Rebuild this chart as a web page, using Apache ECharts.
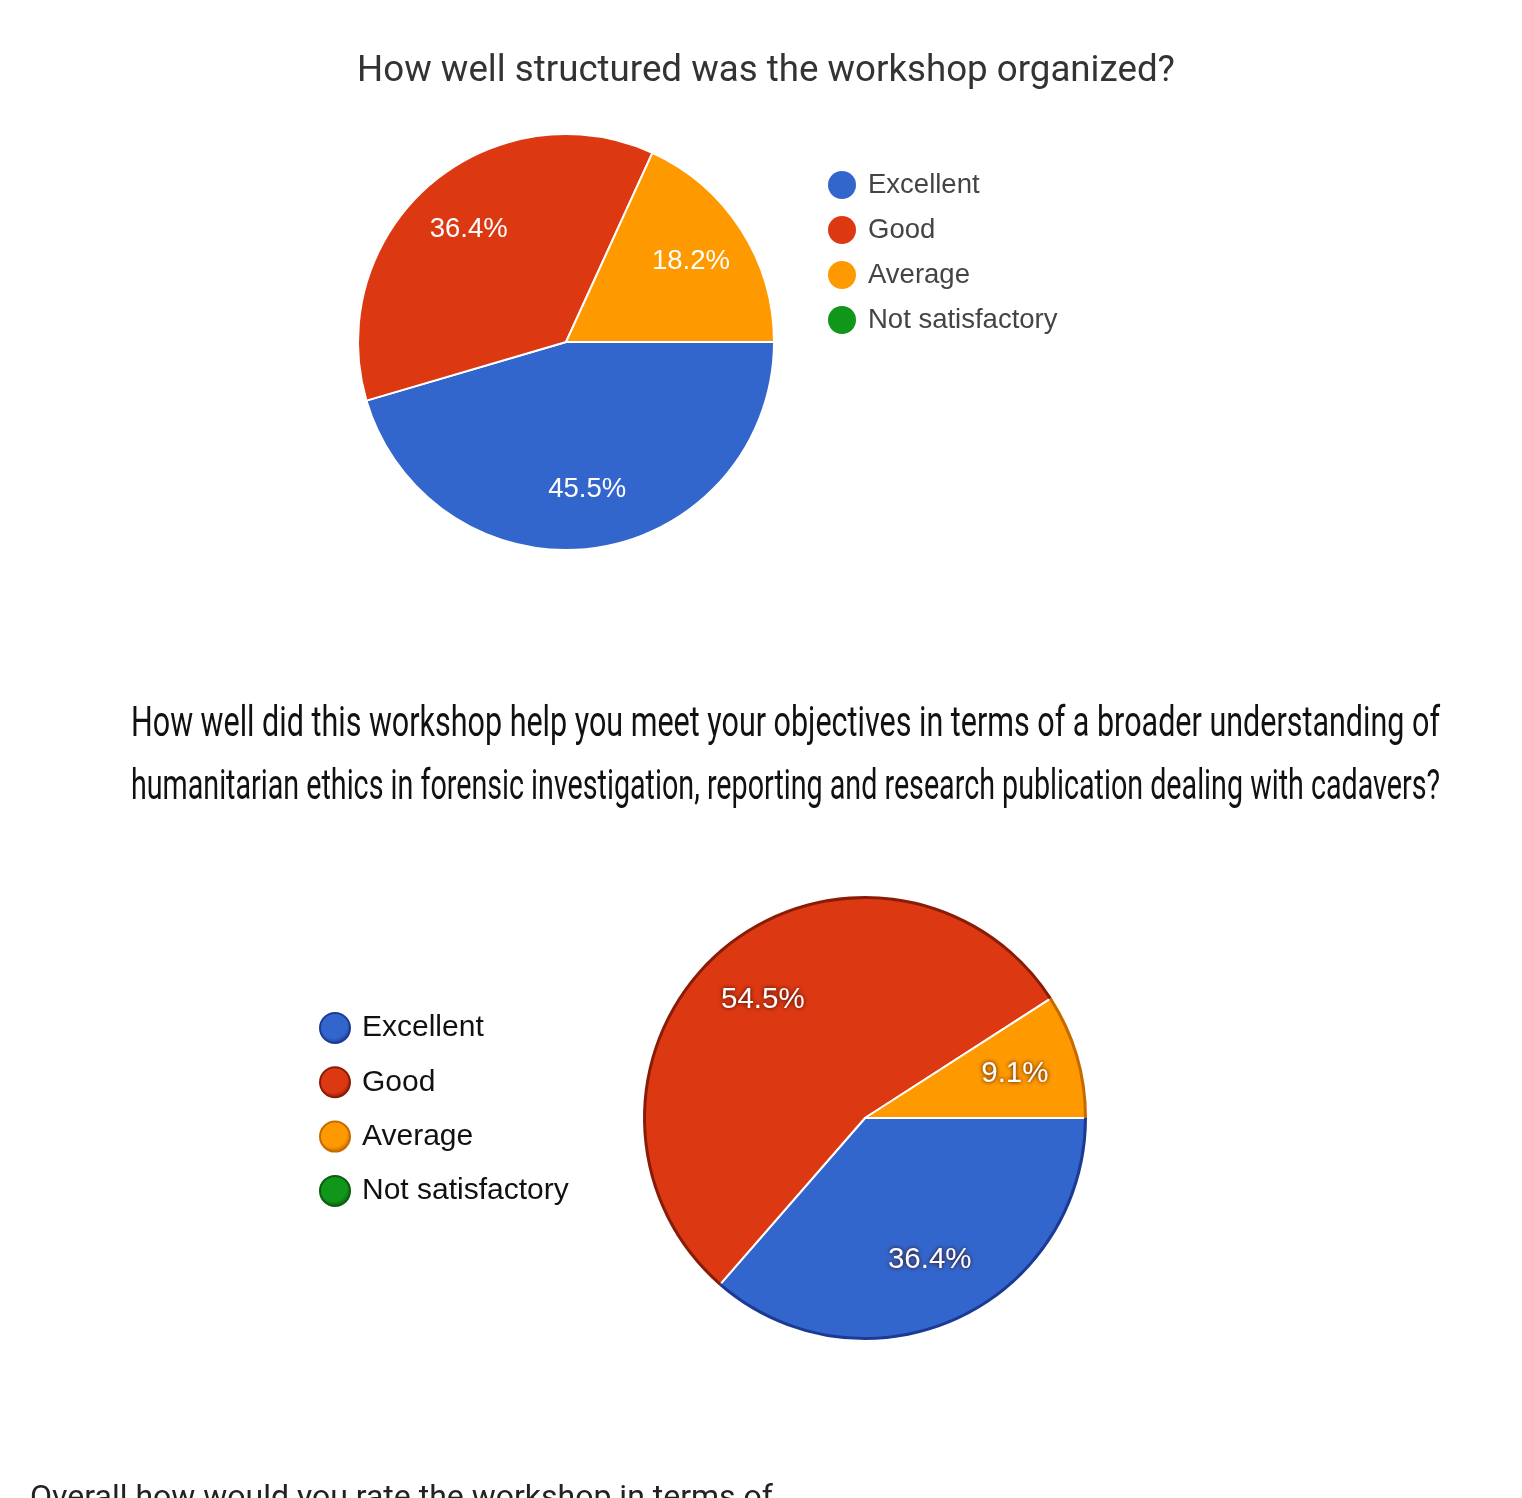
<!DOCTYPE html>
<html>
<head>
<meta charset="utf-8">
<script src="https://cdn.jsdelivr.net/npm/echarts@6/dist/echarts.min.js"></script>
<style>
html,body{margin:0;padding:0;background:#fff;}
#chart{width:1522px;height:1498px;}
</style>
</head>
<body>
<div id="chart"></div>
<script>
// ---- data ----
const categories = ['Excellent', 'Good', 'Average', 'Not satisfactory'];
const title1 = 'How well structured was the workshop organized?';
const values1 = [45.5, 36.4, 18.2, 0];
const title2Lines = [
  'How well did this workshop help you meet your objectives in terms of a broader understanding of',
  'humanitarian ethics in forensic investigation, reporting and research publication dealing with cadavers?'
];
const values2 = [36.4, 54.5, 9.1, 0];
const title3 = 'Overall how would you rate the workshop in terms of';

// ---- styles ----
const colors = ['#3366cc', '#dc3912', '#ff9900', '#109618'];
const darkColors = ['#1b3a94', '#8a1c07', '#c66a00', '#0b5e10'];

function pct(p) { return p.value === 0 ? '' : p.value.toFixed(1) + '%'; }

function mainData(vals) {
  return categories.map((c, i) => ({ name: c, value: vals[i], itemStyle: { color: colors[i] } }));
}
function labelData(vals) {
  return categories.map((c, i) => ({ name: c, value: vals[i] }));
}

// condensed, justified title lines: scale each line to the same width
const cv = document.createElement('canvas').getContext('2d');
const t2Font = '43px Roboto';
cv.font = t2Font;
const t2Width = 1309;

const pie1 = { center: [566, 342], r: 208 };
const pie2 = { center: [865, 1118], r: 222 };
const labelRatio1 = 0.70;
const labelRatio2 = 0.69;

const option = {
  backgroundColor: '#ffffff',
  animation: false,
  title: [
    { text: title1, left: 761, top: 48, textAlign: 'center',
      textStyle: { fontFamily: 'Roboto', fontSize: 36.7, fontWeight: 'normal', color: '#333333' } },
    { text: title3, left: 25, top: 1478,
      textStyle: { fontFamily: 'Roboto', fontSize: 32, fontWeight: 'normal', color: '#222222' } }
  ],
  graphic: title2Lines.map((t, i) => ({
    type: 'text', x: 785.5, y: 725 + i * 63, scaleX: t2Width / cv.measureText(t).width, silent: true,
    style: { text: t, font: t2Font, fill: '#111111', textAlign: 'center', textVerticalAlign: 'middle' }
  })),
  legend: [
    {
      orient: 'vertical', left: 823, top: 166, icon: 'circle',
      itemWidth: 28, itemHeight: 28, itemGap: 17,
      selectedMode: false,
      textStyle: { fontFamily: 'Liberation Sans', fontSize: 27.5, color: '#444444', padding: [0, 0, 0, 7] },
      data: categories.map((c, i) => ({ name: c, itemStyle: { color: colors[i], borderWidth: 0 } }))
    },
    {
      orient: 'vertical', left: 314, top: 1007, icon: 'circle',
      itemWidth: 30, itemHeight: 30, itemGap: 22.3,
      selectedMode: false,
      textStyle: { fontFamily: 'Liberation Sans', fontSize: 30, color: '#111111', padding: [0, 0, 0, 7] },
      data: categories.map((c, i) => ({ name: c, itemStyle: {
        color: { type: 'radial', x: 0.45, y: 0.4, r: 0.6, colorStops: [
          { offset: 0, color: colors[i] }, { offset: 0.7, color: colors[i] }, { offset: 1, color: darkColors[i] }] },
        borderColor: darkColors[i], borderWidth: 2 } }))
    }
  ],
  series: [
    // pie 1
    {
      type: 'pie', center: pie1.center, radius: [0, pie1.r], startAngle: 0, clockwise: true,
      silent: true, label: { show: false }, labelLine: { show: false },
      emphasis: { disabled: true },
      itemStyle: { borderColor: '#ffffff', borderWidth: 2 },
      data: mainData(values1)
    },
    {
      type: 'pie', center: pie1.center, radius: [pie1.r * (2 * labelRatio1 - 1), pie1.r], startAngle: 0, clockwise: true,
      silent: true, emphasis: { disabled: true }, labelLine: { show: false },
      itemStyle: { color: 'rgba(0,0,0,0)', borderWidth: 0 },
      label: { show: true, position: 'inside', formatter: pct, color: '#ffffff',
        fontFamily: 'Liberation Sans', fontSize: 27.5 },
      data: labelData(values1)
    },
    // pie 2
    {
      type: 'pie', center: pie2.center, radius: [0, pie2.r], startAngle: 0, clockwise: true,
      silent: true, label: { show: false }, labelLine: { show: false },
      emphasis: { disabled: true },
      itemStyle: { borderColor: '#ffffff', borderWidth: 2 },
      data: mainData(values2)
    },
    {
      type: 'pie', center: pie2.center, radius: [pie2.r - 3, pie2.r], startAngle: 0, clockwise: true,
      silent: true, label: { show: false }, labelLine: { show: false },
      emphasis: { disabled: true },
      itemStyle: { borderWidth: 0 },
      data: categories.map((c, i) => ({ name: c, value: values2[i], itemStyle: { color: darkColors[i] } }))
    },
    {
      type: 'pie', center: pie2.center, radius: [pie2.r * (2 * labelRatio2 - 1), pie2.r], startAngle: 0, clockwise: true,
      silent: true, emphasis: { disabled: true }, labelLine: { show: false },
      itemStyle: { color: 'rgba(0,0,0,0)', borderWidth: 0 },
      label: { show: true, position: 'inside', formatter: pct, color: '#ffffff',
        fontFamily: 'Liberation Sans', fontSize: 29.5,
        textShadowColor: 'rgba(50,0,0,0.95)', textShadowBlur: 4 },
      data: labelData(values2)
    }
  ]
};

const chart = echarts.init(document.getElementById('chart'));
chart.setOption(option);
</script>
</body>
</html>
